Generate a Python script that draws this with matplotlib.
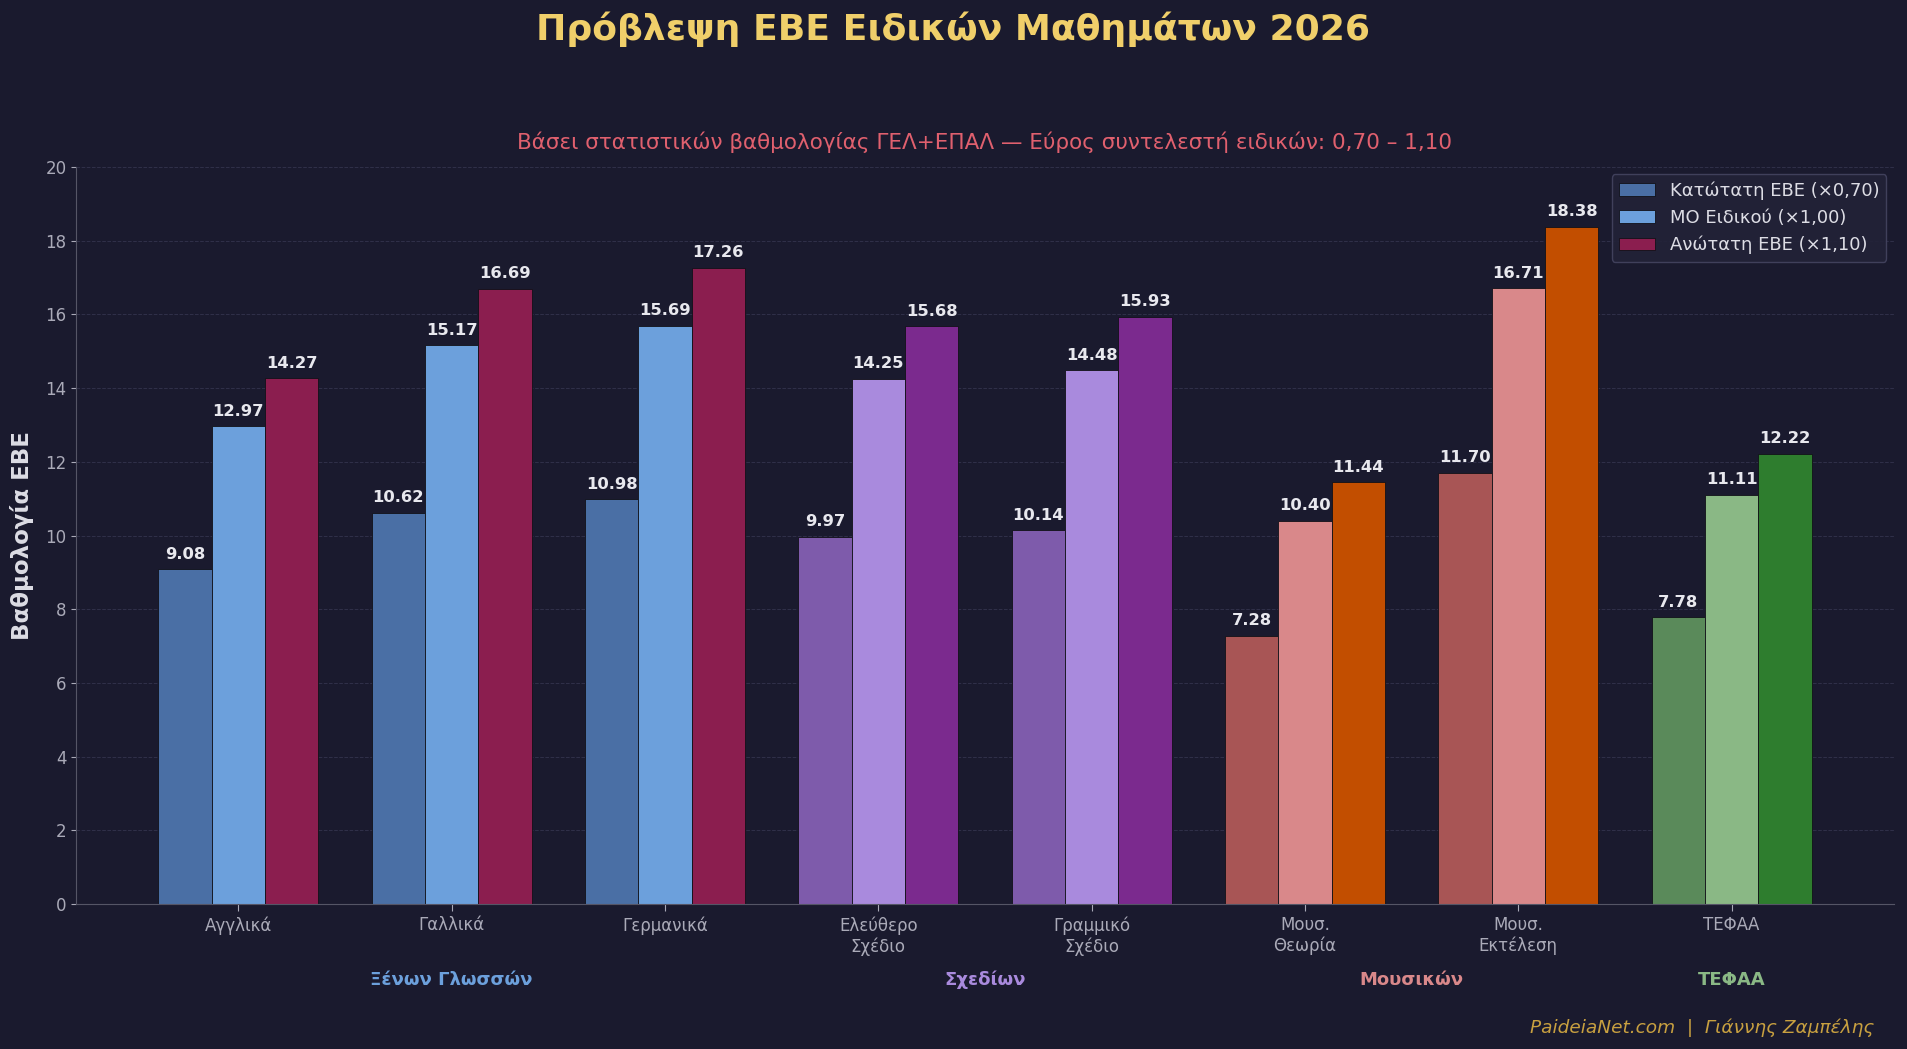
import numpy as np
import matplotlib
matplotlib.use("Agg")
import matplotlib.pyplot as plt

# ---- data ----
subjects = ["Αγγλικά", "Γαλλικά", "Γερμανικά", "Ελεύθερο\nΣχέδιο", "Γραμμικό\nΣχέδιο",
            "Μουσ.\nΘεωρία", "Μουσ.\nΕκτέλεση", "ΤΕΦΑΑ"]
low_ebe = [9.08, 10.62, 10.98, 9.97, 10.14, 7.28, 11.70, 7.78]
mean_spec = [12.97, 15.17, 15.69, 14.25, 14.48, 10.40, 16.71, 11.11]
high_ebe = [14.27, 16.69, 17.26, 15.68, 15.93, 11.44, 18.38, 12.22]
group_of = [0, 0, 0, 1, 1, 2, 2, 3]
group_names = ["Ξένων Γλωσσών", "Σχεδίων", "Μουσικών", "ΤΕΦΑΑ"]
series_names = ["Κατώτατη ΕΒΕ (×0,70)", "ΜΟ Ειδικού (×1,00)", "Ανώτατη ΕΒΕ (×1,10)"]

# colours per group: (low, mid, high)
group_colors = [
    ("#4a6fa5", "#6ca0dc", "#8b1e4f"),
    ("#7e5bab", "#a98add", "#7b2a8e"),
    ("#a85555", "#d9888a", "#c24e00"),
    ("#5a8a5a", "#8ab885", "#2e7d2e"),
]

BG = "#1a1a2e"
plt.rcParams['font.family'] = ['DejaVu Sans']

fig = plt.figure(figsize=(19.07, 10.49), dpi=100, facecolor=BG)
ax = fig.add_axes([0.040, 0.138, 0.953, 0.703])
ax.set_facecolor(BG)

x = np.arange(len(subjects))
w = 0.25
series = [low_ebe, mean_spec, high_ebe]
for s, vals in enumerate(series):
    cols = [group_colors[g][s] for g in group_of]
    bars = ax.bar(x + (s - 1) * w, vals, w, color=cols, edgecolor="#111118",
                  linewidth=0.6, label=series_names[s])
    for b, v in zip(bars, vals):
        ax.text(b.get_x() + b.get_width() / 2, v + 0.2, f"{v:.2f}", ha="center",
                va="bottom", fontsize=11.8, fontweight="bold", color="#e8e8ee")

ax.set_ylim(0, 20)
ax.set_xlim(-0.76, 7.76)
ax.set_yticks(np.arange(0, 21, 2))
ax.set_xticks(x)
ax.set_xticklabels(subjects, fontsize=12, color="#aaaab8")
ax.tick_params(axis="y", colors="#aaaab8", labelsize=12)
ax.tick_params(axis="x", colors="#aaaab8", length=5)
ax.yaxis.grid(True, linestyle="--", color="#3a3a55", linewidth=0.7, alpha=0.7)
ax.set_axisbelow(True)
for side in ["top", "right"]:
    ax.spines[side].set_visible(False)
for side in ["left", "bottom"]:
    ax.spines[side].set_color("#555566")

ax.set_ylabel("Βαθμολογία ΕΒΕ", fontsize=16.5, fontweight="bold", color="#dddde5", labelpad=8)

# group labels under the ticks
for g, name in enumerate(group_names):
    idx = [i for i, gg in enumerate(group_of) if gg == g]
    ax.text(np.mean(idx), -2.05, name, ha="center", va="center", fontsize=13,
            fontweight="bold", color=group_colors[g][1], transform=ax.transData)

# legend with the first group's colours
leg = ax.legend(loc="upper right", fontsize=13, facecolor="#222238", edgecolor="#444460",
                framealpha=0.9, labelcolor="#dddde5", borderaxespad=0.4)

fig.text(0.5, 0.972, "Πρόβλεψη ΕΒΕ Ειδικών Μαθημάτων 2026", ha="center", va="center",
         fontsize=26, fontweight="bold", color="#f0cf6a")
ax.set_title("Βάσει στατιστικών βαθμολογίας ΓΕΛ+ΕΠΑΛ — Εύρος συντελεστή ειδικών: 0,70 – 1,10",
             fontsize=15.5, color="#e0606e", pad=13)
fig.text(0.983, 0.02, "PaideiaNet.com  |  Γιάννης Ζαμπέλης", ha="right", va="center",
         fontsize=13.3, style="italic", color="#c8a040")

fig.savefig("out.png", dpi=100, facecolor=BG)
